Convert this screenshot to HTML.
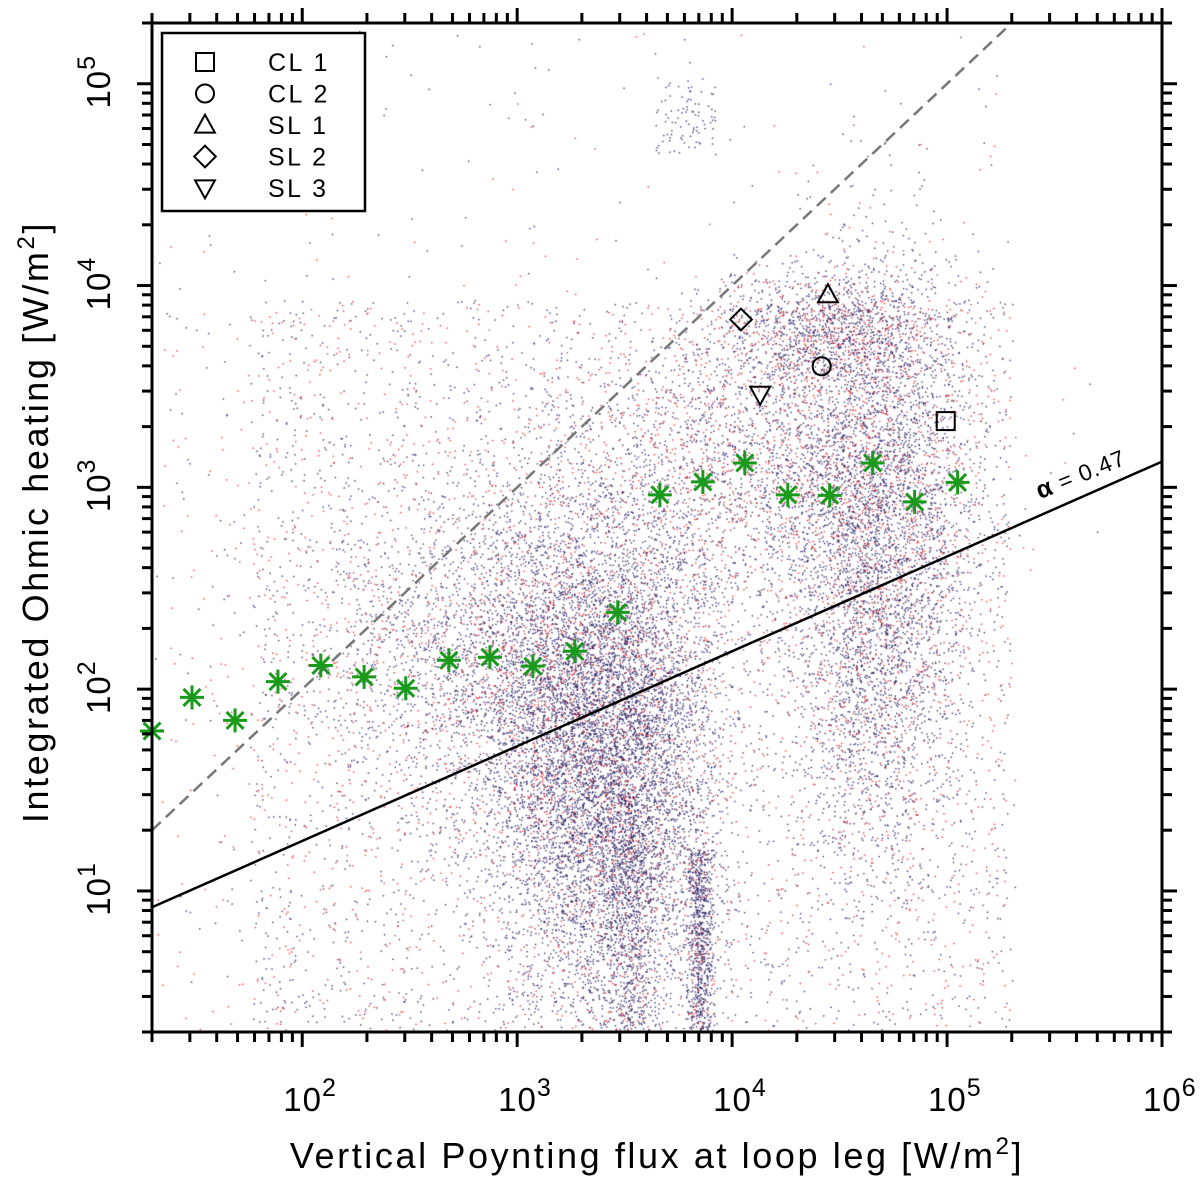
<!DOCTYPE html>
<html><head><meta charset="utf-8"><style>
html,body{margin:0;padding:0;background:#fff;}
svg text{font-family:"Liberation Sans",Arial,sans-serif;fill:#000;}
#wrap{position:relative;width:1200px;height:1181px;}
canvas{position:absolute;left:0;top:0;}
svg{position:absolute;left:0;top:0;}
</style></head><body>
<div id="wrap">
<canvas id="cloud" width="1200" height="1181"></canvas>
<svg id="chart" width="1200" height="1181"></svg>
</div>
<script>
const binX = [20,30.7,48.7,77.1,122,194,303,481,747,1183,1853,2937,4613,7311,11455,18155,28445,45082,70630,111944];
const binY = [62,91,70,109,131,115,101,139,144,130,154,240,918,1064,1321,918,913,1321,847,1058];
const markerNames = ["CL 1","CL 2","SL 1","SL 2","SL 3"];
const markerShapes = ["square","circle","triangle","diamond","tridown"];
const markerX = [98600,26100,27900,11000,13500];
const markerY = [2130,3980,9020,6790,2890];
const xTickExp = ["2","3","4","5","6"];
const yTickExp = ["1","2","3","4","5"];
const alpha = 0.47, fitA = 8.3;

const L=152,R=1162,T=23,B=1032;
const XMIN=20,XMAX=1e6,YMIN=2,YMAX=2e5;
const sx=v=>L+(Math.log10(v)-Math.log10(XMIN))/(Math.log10(XMAX)-Math.log10(XMIN))*(R-L);
const sy=v=>B-(Math.log10(v)-Math.log10(YMIN))/(Math.log10(YMAX)-Math.log10(YMIN))*(B-T);

// background point cloud texture (deterministic, decorative)
(function(){
  const c=document.getElementById('cloud').getContext('2d');
  let s=12345;const r=()=>{s=(s*1103515245+12345)%2147483648;return s/2147483648;};
  const g=()=>{let u=0;for(let i=0;i<4;i++)u+=r();return (u-2)/0.577;};
  c.save();c.beginPath();c.rect(L,T,R-L,B-T);c.clip();
  const dot=(x,y,red)=>{c.fillStyle=red?'rgba(235,30,30,0.85)':'rgba(35,25,95,0.85)';c.fillRect(x,y,1.4,1.4);};
  [[610,780,55,130,7000,0.12],[880,560,45,150,4500,0.18],[760,470,110,70,2500,0.3],
   [560,700,70,90,2500,0.15],[470,640,90,80,1400,0.25],[830,330,60,30,1200,0.3]].forEach(b=>{
    for(let i=0;i<b[4];i++)dot(b[0]+b[2]*g(),b[1]+b[3]*g(),r()<b[5]);});
  for(let i=0;i<700;i++)dot(700+7*g(),850+180*r(),r()<0.1);
  for(let i=0;i<600;i++)dot(630+12*g(),800+230*r(),r()<0.1);
  for(let i=0;i<3800;i++)dot(250+760*r(),300+730*r(),r()<0.35);
  for(let i=0;i<1400;i++)dot(155+860*r(),300+730*r(),r()<0.55);
  for(let i=0;i<150;i++)dot(155+860*r(),30+270*r(),r()<0.4);
  for(let i=0;i<90;i++)dot(655+60*r(),75+80*r(),false);
  c.restore();
})();

const svg=document.getElementById('chart');const NS='http://www.w3.org/2000/svg';
function el(t,a,p){const e=document.createElementNS(NS,t);for(const k in a)e.setAttribute(k,a[k]);(p||svg).appendChild(e);return e;}

let e=el('line',{x1:sx(20),y1:sy(20),x2:sx(2e5),y2:sy(2e5),stroke:'#777','stroke-width':2.5,'stroke-dasharray':'12,7'});


const fy=x=>fitA*Math.pow(x/20,alpha);
e=el('line',{x1:sx(20),y1:sy(fy(20)),x2:sx(1e6),y2:sy(fy(1e6)),stroke:'#000','stroke-width':2.5});


e=el('text',{x:0,y:0,'font-size':23,'letter-spacing':1,transform:`translate(1040,${sy(fy(3e5))-12}) rotate(-22)`});
e.innerHTML='<tspan font-weight="bold" font-size="25">α</tspan> = 0.47';



binX.forEach((x,i)=>{const g=el('g',{stroke:'#1a9a1a','stroke-width':3});
  
  
  const cx=sx(x),cy=sy(binY[i]),r=12;
  for(let k=0;k<4;k++){const a=k*Math.PI/4;el('line',{x1:cx-r*Math.cos(a),y1:cy-r*Math.sin(a),x2:cx+r*Math.cos(a),y2:cy+r*Math.sin(a)},g);}
});

function shape(kind,cx,cy,sz){const st={fill:'none',stroke:'#000','stroke-width':2};let e;
  if(kind==='square')e=el('rect',Object.assign({x:cx-sz,y:cy-sz,width:2*sz,height:2*sz},st));
  else if(kind==='circle')e=el('circle',Object.assign({cx,cy,r:sz},st));
  else if(kind==='triangle')e=el('polygon',Object.assign({points:`${cx},${cy-sz*1.15} ${cx-sz*1.1},${cy+sz*0.85} ${cx+sz*1.1},${cy+sz*0.85}`},st));
  else if(kind==='tridown')e=el('polygon',Object.assign({points:`${cx},${cy+sz*1.15} ${cx-sz*1.1},${cy-sz*0.85} ${cx+sz*1.1},${cy-sz*0.85}`},st));
  else e=el('polygon',Object.assign({points:`${cx},${cy-sz*1.2} ${cx+sz*1.2},${cy} ${cx},${cy+sz*1.2} ${cx-sz*1.2},${cy}`},st));
  return e;}
markerX.forEach((x,i)=>{const m=shape(markerShapes[i],sx(x),sy(markerY[i]),9);
  
  });

e=el('rect',{x:L,y:T,width:R-L,height:B-T,fill:'none',stroke:'#000','stroke-width':3});


const tg=el('g',{stroke:'#000','stroke-width':3});


for(let d=1;d<=6;d++)for(let m=1;m<10;m++){const v=m*Math.pow(10,d);if(v<XMIN||v>XMAX)continue;const x=sx(v),len=m===1?15:10;
  el('line',{x1:x,y1:B,x2:x,y2:B+len},tg);el('line',{x1:x,y1:T,x2:x,y2:T-len},tg);}
for(let d=0;d<=5;d++)for(let m=1;m<10;m++){const v=m*Math.pow(10,d);if(v<YMIN||v>YMAX)continue;const y=sy(v),len=m===1?15:10;
  el('line',{x1:L,y1:y,x2:L-len,y2:y},tg);el('line',{x1:R,y1:y,x2:R+len,y2:y},tg);}
xTickExp.forEach(p=>{const x=sx(Math.pow(10,+p));const t=el('text',{x:x-19,y:1111,'font-size':33,'letter-spacing':1});
  t.innerHTML='10<tspan dy="-15" font-size="25">'+p+'</tspan>';
  
  });
yTickExp.forEach(p=>{const y=sy(Math.pow(10,+p));const t=el('text',{x:0,y:0,'font-size':33,'letter-spacing':1,'text-anchor':'middle',transform:`translate(110,${y-2}) rotate(-90)`});
  t.innerHTML='10<tspan dy="-15" font-size="25">'+p+'</tspan>';
  
  });
e=el('text',{x:657,y:1168,'font-size':36,'letter-spacing':2.6,'text-anchor':'middle'});
e.innerHTML='Vertical Poynting flux at loop leg [W/m<tspan dy="-14" font-size="24">2</tspan><tspan dy="14">]</tspan>';


e=el('text',{x:0,y:0,'font-size':36,'letter-spacing':2.6,'text-anchor':'middle',transform:'translate(48,522) rotate(-90)'});
e.innerHTML='Integrated Ohmic heating [W/m<tspan dy="-14" font-size="24">2</tspan><tspan dy="14">]</tspan>';



const lg=el('g',{});


el('rect',{x:162,y:33,width:203,height:178,fill:'#fff',stroke:'#000','stroke-width':2.5},lg);
markerNames.forEach((n,i)=>{const y=62+i*31.5;const m=shape(markerShapes[i],205,y,9);lg.appendChild(m);
  
  
  const t=el('text',{x:268,y:y+9,'font-size':25,'letter-spacing':2.5},lg);t.textContent=n;
  
  });
</script>
</body></html>
